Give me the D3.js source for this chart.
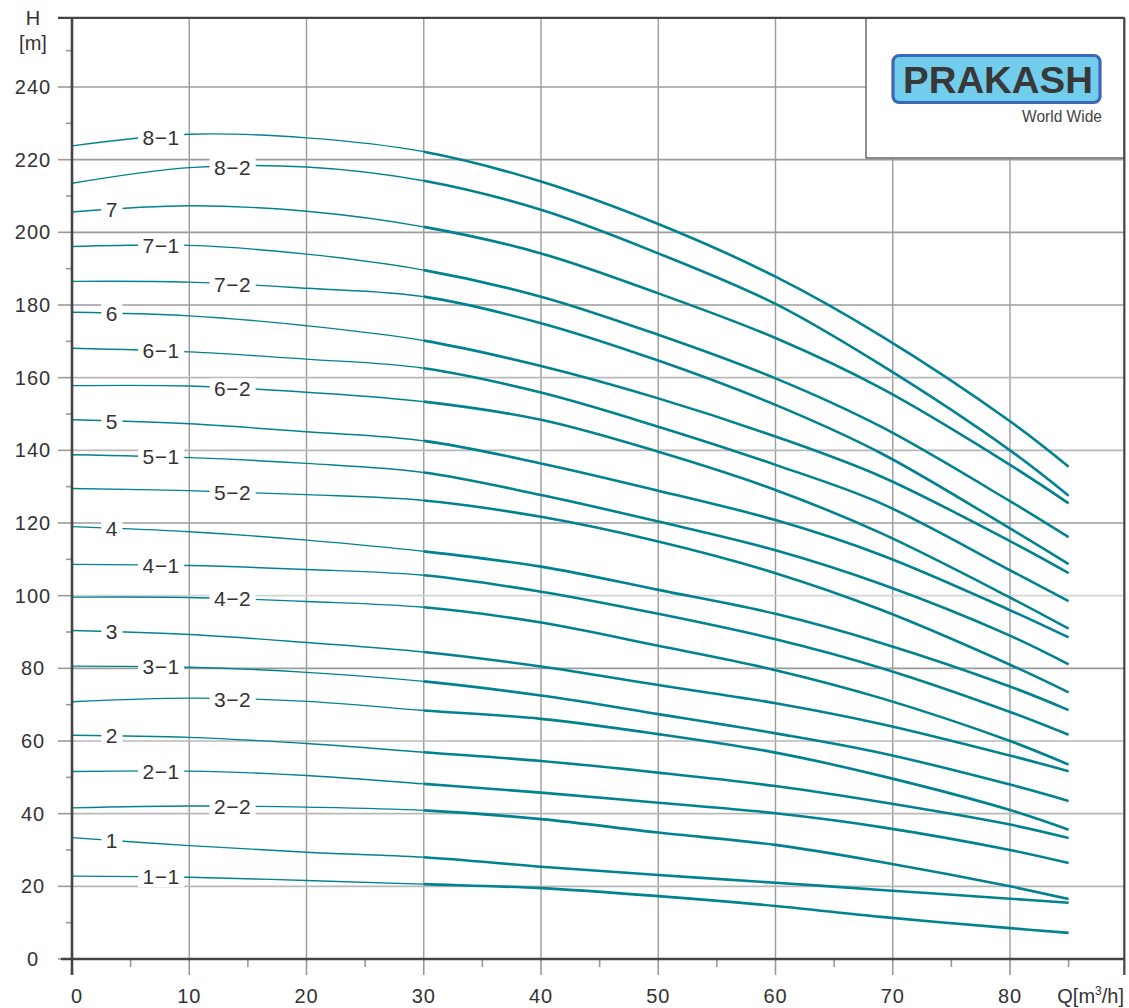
<!DOCTYPE html>
<html>
<head>
<meta charset="utf-8">
<script src="https://cdn.jsdelivr.net/npm/d3@7"></script>
<style>
  html, body { margin: 0; padding: 0; background: #fff; }
  svg { display: block; }
  text { font-family: "Liberation Sans", Arial, Helvetica, sans-serif; }
</style>
</head>
<body>
<svg id="chart" width="1129" height="1008"></svg>
<script>
// ---- Data ----
const flowQ = [0, 10, 20, 30, 40, 50, 60, 69, 80, 85];           // Q [m3/h]
const curveLabels = ["8−1","8−2","7","7−1","7−2","6","6−1","6−2","5","5−1","5−2",
                     "4","4−1","4−2","3","3−1","3−2","2","2−1","2−2","1","1−1"];
const head_8_1 = [223.8, 227.0, 226.0, 222.2, 214.0, 202.3, 187.8, 171.5, 148.0, 135.5];
const head_8_2 = [213.5, 217.8, 218.0, 214.2, 206.2, 194.2, 180.3, 163.5, 140.0, 127.5];
const head_7   = [205.6, 207.3, 205.8, 201.5, 194.2, 183.2, 170.9, 157.1, 136.0, 125.4];
const head_7_1 = [196.1, 196.4, 194.0, 189.6, 182.3, 171.8, 159.8, 146.5, 126.0, 116.1];
const head_7_2 = [186.5, 186.3, 184.6, 182.3, 175.0, 164.7, 152.5, 139.2, 118.5, 108.7];
const head_6   = [178.0, 177.0, 174.3, 170.2, 163.2, 154.3, 143.8, 132.8, 115.0, 106.2];
const head_6_1 = [168.1, 167.1, 165.1, 162.6, 155.9, 146.5, 136.0, 125.4, 107.0, 98.5];
const head_6_2 = [157.8, 157.7, 156.0, 153.4, 148.4, 139.6, 129.1, 117.2, 99.5, 90.9];
const head_5   = [148.4, 147.3, 145.1, 142.6, 136.4, 128.9, 120.8, 111.2, 96.0, 88.5];
const head_5_1 = [138.8, 138.0, 136.4, 133.9, 127.7, 120.4, 112.5, 103.2, 89.0, 81.1];
const head_5_2 = [129.5, 128.9, 127.8, 126.2, 121.7, 114.9, 106.2, 96.1, 81.0, 73.4];
const head_4   = [119.0, 117.6, 115.3, 112.2, 108.0, 101.6, 95.0, 87.0, 75.0, 68.5];
const head_4_1 = [108.6, 108.3, 107.2, 105.6, 101.1, 95.0, 88.0, 80.1, 68.0, 61.7];
const head_4_2 = [99.6, 99.5, 98.4, 96.8, 92.6, 86.2, 79.5, 71.8, 60.0, 53.5];
const head_3   = [90.4, 89.3, 87.1, 84.5, 80.5, 75.4, 70.4, 64.7, 56.0, 51.7];
const head_3_1 = [80.6, 80.3, 78.9, 76.4, 72.5, 67.4, 62.1, 56.7, 48.0, 43.5];
const head_3_2 = [70.8, 71.8, 70.9, 68.4, 66.1, 61.9, 56.8, 50.4, 41.0, 35.6];
const head_2   = [61.6, 61.0, 59.3, 56.9, 54.5, 51.3, 47.6, 43.2, 37.0, 33.3];
const head_2_1 = [51.6, 51.7, 50.5, 48.2, 45.8, 43.0, 40.1, 36.3, 30.0, 26.4];
const head_2_2 = [41.6, 42.1, 41.8, 40.9, 38.5, 34.8, 31.4, 26.7, 20.0, 16.5];
const head_1   = [33.4, 31.2, 29.4, 28.0, 25.4, 23.1, 21.0, 19.0, 16.6, 15.5];
const head_1_1 = [22.8, 22.5, 21.6, 20.6, 19.5, 17.3, 14.6, 11.6, 8.5, 7.2];
const labelQ   = [7.6, 13.7, 3.4, 7.6, 13.7, 3.4, 7.6, 13.7, 3.4, 7.6, 13.7,
                  3.4, 7.6, 13.7, 3.4, 7.6, 13.7, 3.4, 7.6, 13.7, 3.4, 7.6];
const boldFromQ = 30;
const xTicks = [0, 10, 20, 30, 40, 50, 60, 70, 80];
const xMinorTicks = [5, 15, 25, 35, 45, 55, 65, 75, 85];
const yTicks = [0, 20, 40, 60, 80, 100, 120, 140, 160, 180, 200, 220, 240];
const yMinorTicks = [10, 30, 50, 70, 90, 110, 130, 150, 170, 190, 210, 230, 250];
const qDomainMax = 89.75, hDomainMax = 259;

const heads = [head_8_1, head_8_2, head_7, head_7_1, head_7_2, head_6, head_6_1, head_6_2,
  head_5, head_5_1, head_5_2, head_4, head_4_1, head_4_2, head_3, head_3_1, head_3_2,
  head_2, head_2_1, head_2_2, head_1, head_1_1];
const series = curveLabels.map((name, i) => ({
  name, labelQ: labelQ[i],
  points: flowQ.map((q, j) => ({ q, h: heads[i][j] }))
}));

// ---- Layout ----
const svg = d3.select("#chart");
const x = d3.scaleLinear().domain([0, 80]).range([72, 1010]);
const y = d3.scaleLinear().domain([0, 240]).range([959, 87]);
const pL = x(0), pR = x(qDomainMax), pT = y(hDomainMax), pB = y(0);
const teal = "#00838f";
const ink = "#333";

svg.append("rect").attr("width", 1129).attr("height", 1008).attr("fill", "#fff");

// grid
const grid = svg.append("g");
grid.selectAll("line.gx").data(xTicks.filter(d => d > 0)).join("line")
  .attr("x1", d => x(d)).attr("x2", d => x(d))
  .attr("y1", pT).attr("y2", pB)
  .attr("stroke", "#9c9c9c").attr("stroke-width", 1.4);
grid.selectAll("line.gy").data(yTicks.filter(d => d > 0)).join("line")
  .attr("x1", pL).attr("x2", pR)
  .attr("y1", d => y(d)).attr("y2", d => y(d))
  .attr("stroke", d => (d === 100 ? "#d4d4d4" : (d <= 60 || d === 140 || d === 160 ? "#b8b8b8" : "#9c9c9c")))
  .attr("stroke-width", 1.6);

// ticks
const ticks = svg.append("g").attr("stroke", "#999").attr("stroke-width", 1.6);
ticks.selectAll("line.ym").data(yTicks).join("line")
  .attr("x1", pL - 14).attr("x2", pL).attr("y1", d => y(d)).attr("y2", d => y(d));
ticks.selectAll("line.yn").data(yMinorTicks).join("line")
  .attr("x1", pL - 6).attr("x2", pL).attr("y1", d => y(d)).attr("y2", d => y(d));
ticks.selectAll("line.xm").data(xTicks).join("line")
  .attr("x1", d => x(d)).attr("x2", d => x(d)).attr("y1", pB).attr("y2", pB + 16);
ticks.selectAll("line.xn").data(xMinorTicks).join("line")
  .attr("x1", d => x(d)).attr("x2", d => x(d)).attr("y1", pB).attr("y2", pB + 8);

// curves
const lineGen = d3.line().x(d => x(d.q)).y(d => y(d.h)).curve(d3.curveCatmullRom.alpha(0.5));
const defs = svg.append("defs");
defs.append("clipPath").attr("id", "thin").append("rect")
  .attr("x", 0).attr("y", 0).attr("width", x(boldFromQ)).attr("height", 1008);
defs.append("clipPath").attr("id", "bold").append("rect")
  .attr("x", x(boldFromQ)).attr("y", 0).attr("width", 1129).attr("height", 1008);

const curves = svg.append("g").attr("fill", "none").attr("stroke", teal);
curves.selectAll("path.thin").data(series).join("path")
  .attr("clip-path", "url(#thin)").attr("stroke-width", 1.4)
  .attr("d", d => lineGen(d.points));
curves.selectAll("path.bold").data(series).join("path")
  .attr("clip-path", "url(#bold)").attr("stroke-width", 2.6)
  .attr("d", d => lineGen(d.points));

// curve labels
function headAt(s, q) {
  const pts = s.points;
  let i = 0;
  while (i < pts.length - 2 && pts[i + 1].q < q) i++;
  const t = (q - pts[i].q) / (pts[i + 1].q - pts[i].q);
  return pts[i].h + t * (pts[i + 1].h - pts[i].h);
}
const labels = svg.append("g");
series.forEach(s => {
  const cx = x(s.labelQ), cy = y(headAt(s, s.labelQ));
  const g = labels.append("g");
  const t = g.append("text").attr("x", cx).attr("y", cy + 7.5)
    .attr("text-anchor", "middle").attr("font-size", 21).attr("fill", ink)
    .attr("letter-spacing", 0.5).text(s.name);
  const bb = t.node().getBBox();
  g.insert("rect", "text").attr("x", bb.x - 4.5).attr("y", cy - 10)
    .attr("width", bb.width + 9).attr("height", 20).attr("fill", "#fff");
});

// logo box
const logo = svg.append("g");
logo.append("rect").attr("x", 866).attr("y", pT).attr("width", pR - 866).attr("height", 158 - pT)
  .attr("fill", "#fff").attr("stroke", "#555").attr("stroke-width", 1.3);
logo.append("rect").attr("x", 893).attr("y", 55.5).attr("width", 207).attr("height", 47)
  .attr("rx", 6).attr("fill", "#72cdec").attr("stroke", "#3b68b6").attr("stroke-width", 3.2);
logo.append("text").attr("x", 903).attr("y", 92.5).attr("font-size", 36).attr("font-weight", "bold")
  .attr("fill", "#383838").attr("textLength", 190).attr("lengthAdjust", "spacingAndGlyphs").text("PRAKASH");
logo.append("text").attr("x", 1102).attr("y", 122).attr("font-size", 16).attr("text-anchor", "end")
  .attr("fill", "#444").attr("textLength", 80).attr("lengthAdjust", "spacingAndGlyphs").text("World Wide");

// frame / axes
const frame = svg.append("g").attr("stroke", "#444").attr("fill", "none");
frame.append("line").attr("x1", pL).attr("x2", pL).attr("y1", pT).attr("y2", pB + 16).attr("stroke-width", 2.6);
frame.append("line").attr("x1", pL - 11).attr("x2", pR).attr("y1", pB).attr("y2", pB).attr("stroke-width", 2.6);
frame.append("line").attr("x1", pL - 14).attr("x2", pR).attr("y1", pT).attr("y2", pT).attr("stroke-width", 2.2);
frame.append("line").attr("x1", pR).attr("x2", pR).attr("y1", pT).attr("y2", pB + 16).attr("stroke-width", 2.2);

// tick labels
const tl = svg.append("g").attr("font-size", 20).attr("fill", ink).attr("letter-spacing", 1);
tl.selectAll("text.y").data(yTicks).join("text")
  .attr("x", 33).attr("y", d => y(d) + 7).attr("text-anchor", "middle").text(d => d);
tl.selectAll("text.x").data(xTicks).join("text")
  .attr("x", d => x(d) + (d === 0 ? 5 : 0)).attr("y", 1003).attr("text-anchor", "middle").text(d => d);

// axis titles
const at = svg.append("g").attr("font-size", 20).attr("fill", ink);
at.append("text").attr("x", 33).attr("y", 25).attr("text-anchor", "middle").text("H");
at.append("text").attr("x", 33).attr("y", 50).attr("text-anchor", "middle").text("[m]");
const qt = at.append("text").attr("x", 1124).attr("y", 1003).attr("text-anchor", "end");
qt.append("tspan").text("Q[m");
qt.append("tspan").attr("font-size", 12).attr("dy", -8).text("3");
qt.append("tspan").attr("dy", 8).text("/h]");
</script>
</body>
</html>
